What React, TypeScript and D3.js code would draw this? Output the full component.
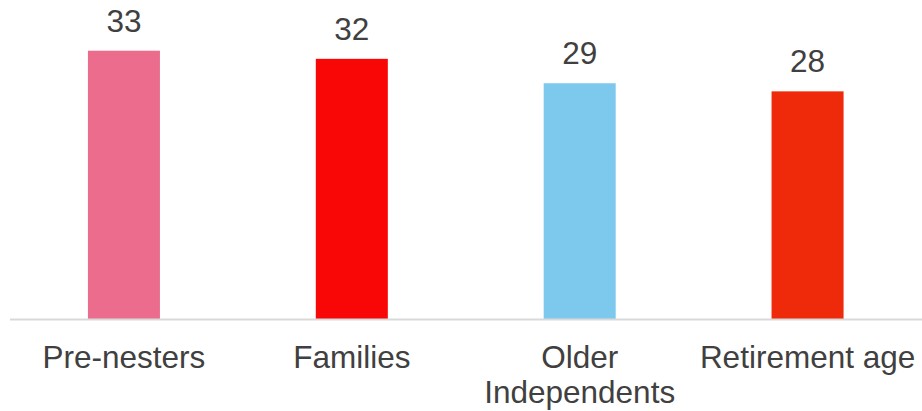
import React from "react";
import * as d3 from "d3";

const categories = ["Pre-nesters", "Families", "Older Independents", "Retirement age"];
const tickLabelLines = [["Pre-nesters"], ["Families"], ["Older", "Independents"], ["Retirement age"]];
const values = [33, 32, 29, 28];
const barColors = ["#EB6C8D", "#F90606", "#7DC9EE", "#EE2A0A"];

const W = 922;
const H = 411;
const baseY = 319;
const FONT = "'Liberation Sans', Arial, sans-serif";

export default function App() {
  const x = d3
    .scaleBand<string>()
    .domain(categories)
    .range([10, 921.5])
    .paddingInner(0.684)
    .paddingOuter(0.342);
  const y = d3.scaleLinear().domain([0, 35]).range([baseY, baseY - 8.13 * 35]);

  return (
    <svg
      width={W}
      height={H}
      style={{ position: "absolute", left: 0, top: 0, display: "block", background: "#fff" }}
    >
      {categories.map((c, i) => {
        const bx = x(c) as number;
        return (
          <g key={c}>
            <rect
              x={bx}
              y={y(values[i])}
              width={x.bandwidth()}
              height={baseY - y(values[i])}
              fill={barColors[i]}
            />
            <text
              x={bx + x.bandwidth() / 2}
              y={y(values[i]) - 19}
              textAnchor="middle"
              fontFamily={FONT}
              fontSize={31.5}
              fill="#404040"
            >
              {values[i]}
            </text>
            {tickLabelLines[i].map((line, j) => (
              <text
                key={j}
                x={bx + x.bandwidth() / 2}
                y={368 + j * 35}
                textAnchor="middle"
                fontFamily={FONT}
                fontSize={31.5}
                fill="#404040"
              >
                {line}
              </text>
            ))}
          </g>
        );
      })}
      <line x1={10} x2={922} y1={baseY + 0.5} y2={baseY + 0.5} stroke="#D9D9D9" strokeWidth={2} />
    </svg>
  );
}
